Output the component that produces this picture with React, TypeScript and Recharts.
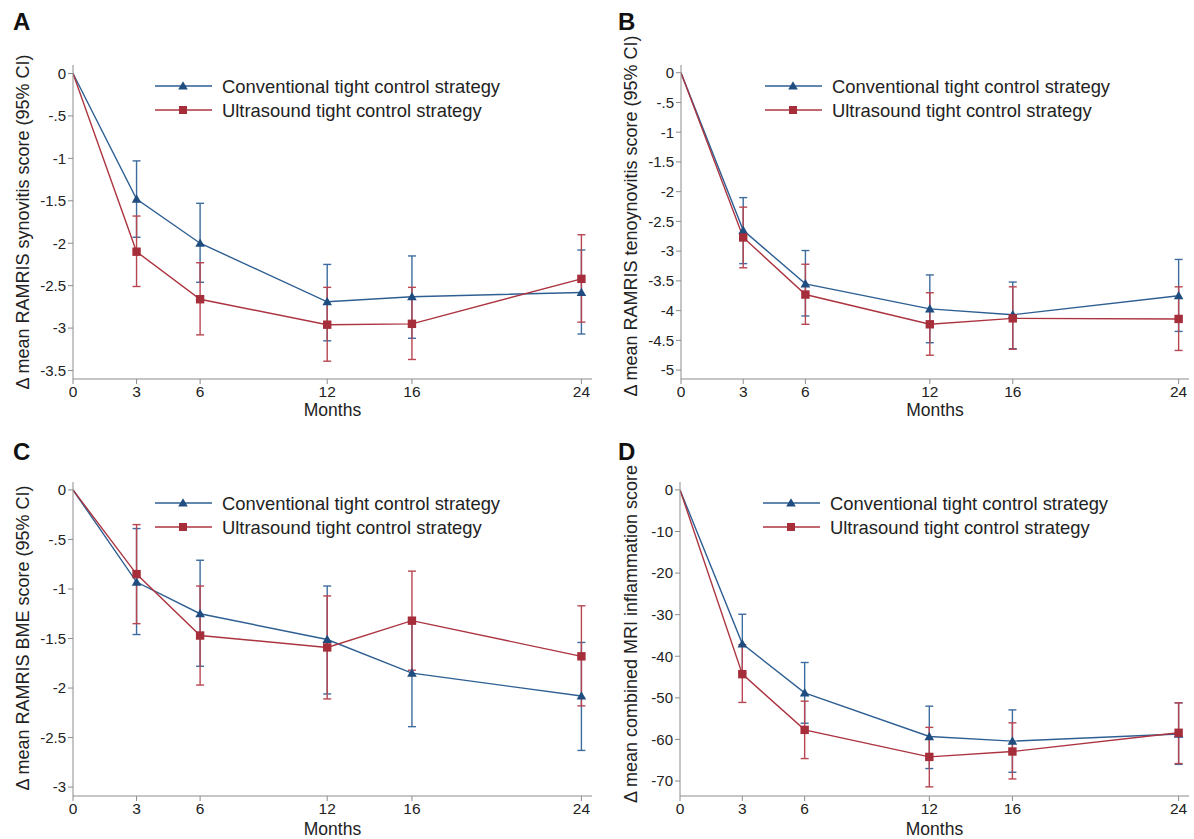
import React from 'react';
import {
  LineChart,
  Line,
  XAxis,
  YAxis,
  ErrorBar,
  Legend,
} from 'recharts';

const months = [0, 3, 6, 12, 16, 24];
const monthTicks = [0, 3, 6, 12, 16, 24];

// A: synovitis
const synConv = [0, -1.48, -2.0, -2.69, -2.63, -2.58];
const synConvLow = [0, -1.93, -2.46, -3.15, -3.12, -3.07];
const synConvHigh = [0, -1.03, -1.53, -2.25, -2.15, -2.08];
const synUs = [0, -2.1, -2.66, -2.96, -2.95, -2.42];
const synUsLow = [0, -2.51, -3.08, -3.39, -3.37, -2.93];
const synUsHigh = [0, -1.68, -2.23, -2.52, -2.52, -1.9];

// B: tenosynovitis
const tenConv = [0, -2.65, -3.55, -3.97, -4.07, -3.75];
const tenConvLow = [0, -3.21, -4.09, -4.54, -4.64, -4.35];
const tenConvHigh = [0, -2.1, -2.99, -3.4, -3.52, -3.14];
const tenUs = [0, -2.77, -3.73, -4.23, -4.13, -4.14];
const tenUsLow = [0, -3.28, -4.23, -4.75, -4.65, -4.67];
const tenUsHigh = [0, -2.26, -3.22, -3.7, -3.6, -3.6];

// C: BME
const bmeConv = [0, -0.93, -1.25, -1.51, -1.85, -2.08];
const bmeConvLow = [0, -1.46, -1.78, -2.06, -2.39, -2.63];
const bmeConvHigh = [0, -0.39, -0.71, -0.97, -1.31, -1.54];
const bmeUs = [0, -0.85, -1.47, -1.59, -1.32, -1.68];
const bmeUsLow = [0, -1.35, -1.97, -2.11, -1.82, -2.18];
const bmeUsHigh = [0, -0.35, -0.97, -1.07, -0.82, -1.17];

// D: combined inflammation
const infConv = [0, -37.0, -48.8, -59.3, -60.4, -58.7];
const infConvLow = [0, -44.1, -56.1, -67.0, -67.9, -66.0];
const infConvHigh = [0, -29.9, -41.5, -52.0, -52.9, -51.2];
const infUs = [0, -44.3, -57.7, -64.2, -62.9, -58.4];
const infUsLow = [0, -51.1, -64.6, -71.4, -69.5, -65.8];
const infUsHigh = [0, -37.2, -50.8, -57.1, -56.0, -51.2];

const ticksA = [0, -0.5, -1, -1.5, -2, -2.5, -3, -3.5];
const ticksB = [0, -0.5, -1, -1.5, -2, -2.5, -3, -3.5, -4, -4.5, -5];
const ticksC = [0, -0.5, -1, -1.5, -2, -2.5, -3];
const ticksD = [0, -10, -20, -30, -40, -50, -60, -70];

const convName = 'Conventional tight control strategy';
const usName = 'Ultrasound tight control strategy';

const BLUE = '#2e5f93';
const RED = '#ac3440';
const AXIS = '#8c8c8c';
const TEXT = '#222';
const FONT = '"Liberation Sans", Arial, sans-serif';

const buildRows = (
  conv: number[], convLow: number[], convHigh: number[],
  us: number[], usLow: number[], usHigh: number[],
) =>
  months.map((m, i) => ({
    month: m,
    conv: conv[i],
    convErr: m === 0 ? null : [conv[i] - convLow[i], convHigh[i] - conv[i]],
    us: us[i],
    usErr: m === 0 ? null : [us[i] - usLow[i], usHigh[i] - us[i]],
  }));

const fmt = (v: number) => String(v).replace('0.', '.');

const Triangle = (props: any) => {
  const { cx, cy, payload, index } = props;
  if (payload.month === 0 || cx == null) return <g key={index} />;
  const s = 4.8;
  return (
    <polygon
      key={index}
      points={`${cx},${cy - s} ${cx - s},${cy + s * 0.75} ${cx + s},${cy + s * 0.75}`}
      fill="#1f4d80"
    />
  );
};

const Square = (props: any) => {
  const { cx, cy, payload, index } = props;
  if (payload.month === 0 || cx == null) return <g key={index} />;
  const s = 4.2;
  return <rect key={index} x={cx - s} y={cy - s} width={s * 2} height={s * 2} fill="#a52e3a" />;
};

const LegendBox = () => (
  <svg width={380} height={50} style={{ overflow: 'visible', display: 'block' }}>
    {[
      { name: convName, color: BLUE, tri: true, y: 10 },
      { name: usName, color: RED, tri: false, y: 34 },
    ].map((r) => (
      <g key={r.name}>
        <line x1={0} x2={57} y1={r.y} y2={r.y} stroke={r.color} strokeWidth={1.4} />
        {r.tri ? (
          <polygon points={`28,${r.y - 4.8} 23.2,${r.y + 3.6} 32.8,${r.y + 3.6}`} fill="#1f4d80" />
        ) : (
          <rect x={24} y={r.y - 4} width={8} height={8} fill="#a52e3a" />
        )}
        <text x={67} y={r.y} dominantBaseline="central" fontSize={18.4} fill={TEXT} fontFamily={FONT}>
          {r.name}
        </text>
      </g>
    ))}
  </svg>
);

interface PanelProps {
  letter: string;
  left: number;
  top: number;
  height: number;
  rows: any[];
  ticks: number[];
  domain: [number, number];
  yLabel: string;
  axisX: number;
  plotTop: number;
  plotBottom: number;
  labelX: number;
  labelDy: number;
  legendLeft: number;
  legendTop: number;
  letterX: number;
  letterY: number;
}

const Panel: React.FC<PanelProps> = (p) => {
  const width = 597;
  const plotRight = 592;
  return (
    <div style={{ position: 'absolute', left: p.left, top: p.top, width, height: p.height }}>
      <div
        style={{
          position: 'absolute', left: p.letterX, top: p.letterY, fontFamily: FONT,
          fontWeight: 'bold', fontSize: 24, color: '#111', lineHeight: 1,
        }}
      >
        {p.letter}
      </div>
      <LineChart
        width={width}
        height={p.height}
        data={p.rows}
        margin={{ top: p.plotTop, right: width - plotRight, bottom: 0, left: 0 }}
      >
        <XAxis
          dataKey="month"
          type="number"
          domain={[0, 24.5]}
          ticks={monthTicks}
          allowDataOverflow
          height={p.height - p.plotBottom}
          stroke={AXIS}
          tickSize={5}
          tick={{ fill: TEXT, fontSize: 15.5, fontFamily: FONT }}
          label={{ value: 'Months', position: 'insideBottom', offset: 4, fill: TEXT, fontSize: 17.5, fontFamily: FONT }}
        />
        <YAxis
          type="number"
          domain={p.domain}
          ticks={p.ticks}
          allowDataOverflow
          width={p.axisX}
          stroke={AXIS}
          tickSize={5}
          tickFormatter={fmt}
          tick={{ fill: TEXT, fontSize: 15, fontFamily: FONT }}
          label={(props: any) => {
            const vb = props.viewBox;
            const cy = vb.y + vb.height / 2 + p.labelDy;
            return (
              <text
                x={p.labelX}
                y={cy}
                transform={`rotate(-90 ${p.labelX} ${cy})`}
                textAnchor="middle"
                dominantBaseline="central"
                fontSize={18}
                fill={TEXT}
                fontFamily={FONT}
              >
                {p.yLabel}
              </text>
            );
          }}
        />
        <Legend
          layout="horizontal"
          verticalAlign="middle"
          align="center"
          content={() => <LegendBox />}
          wrapperStyle={{ position: 'absolute', left: p.legendLeft, top: p.legendTop, width: 380, height: 50 }}
        />
        <Line
          dataKey="conv"
          name={convName}
          stroke={BLUE}
          strokeWidth={1.4}
          dot={Triangle}
          activeDot={false}
          isAnimationActive={false}
        >
          <ErrorBar dataKey="convErr" direction="y" width={4} stroke="#3d6c9e" strokeWidth={1.4} isAnimationActive={false} />
        </Line>
        <Line
          dataKey="us"
          name={usName}
          stroke={RED}
          strokeWidth={1.4}
          dot={Square}
          activeDot={false}
          isAnimationActive={false}
        >
          <ErrorBar dataKey="usErr" direction="y" width={4} stroke="#b84550" strokeWidth={1.4} isAnimationActive={false} />
        </Line>
      </LineChart>
    </div>
  );
};

const rowsA = buildRows(synConv, synConvLow, synConvHigh, synUs, synUsLow, synUsHigh);
const rowsB = buildRows(tenConv, tenConvLow, tenConvHigh, tenUs, tenUsLow, tenUsHigh);
const rowsC = buildRows(bmeConv, bmeConvLow, bmeConvHigh, bmeUs, bmeUsLow, bmeUsHigh);
const rowsD = buildRows(infConv, infConvLow, infConvHigh, infUs, infUsLow, infUsHigh);

export default function App() {
  return (
    <div style={{ position: 'absolute', left: 0, top: 0, width: 1194, height: 839, background: '#fff', overflow: 'hidden' }}>
      <Panel
        letter="A" left={0} top={0} height={420} rows={rowsA} ticks={ticksA}
        domain={[-3.6, 0.1]} yLabel="Δ mean RAMRIS synovitis score (95% CI)"
        axisX={73} plotTop={65} plotBottom={379} labelX={23} labelDy={0}
        legendLeft={155} legendTop={76} letterX={13} letterY={10}
      />
      <Panel
        letter="B" left={597} top={0} height={420} rows={rowsB} ticks={ticksB}
        domain={[-5.15, 0.13]} yLabel="Δ mean RAMRIS tenoynovitis score (95% CI)"
        axisX={84} plotTop={65} plotBottom={379} labelX={34} labelDy={-6}
        legendLeft={168} legendTop={76} letterX={21} letterY={10}
      />
      <Panel
        letter="C" left={0} top={420} height={419} rows={rowsC} ticks={ticksC}
        domain={[-3.09, 0.08]} yLabel="Δ mean RAMRIS BME score (95% CI)"
        axisX={73} plotTop={62} plotBottom={376} labelX={23} labelDy={-1}
        legendLeft={155} legendTop={73} letterX={13} letterY={20}
      />
      <Panel
        letter="D" left={597} top={420} height={419} rows={rowsD} ticks={ticksD}
        domain={[-73.6, 1.9]} yLabel="Δ mean combined MRI inflammation score"
        axisX={83} plotTop={62} plotBottom={376} labelX={34} labelDy={-5}
        legendLeft={166} legendTop={73} letterX={21} letterY={20}
      />
    </div>
  );
}
